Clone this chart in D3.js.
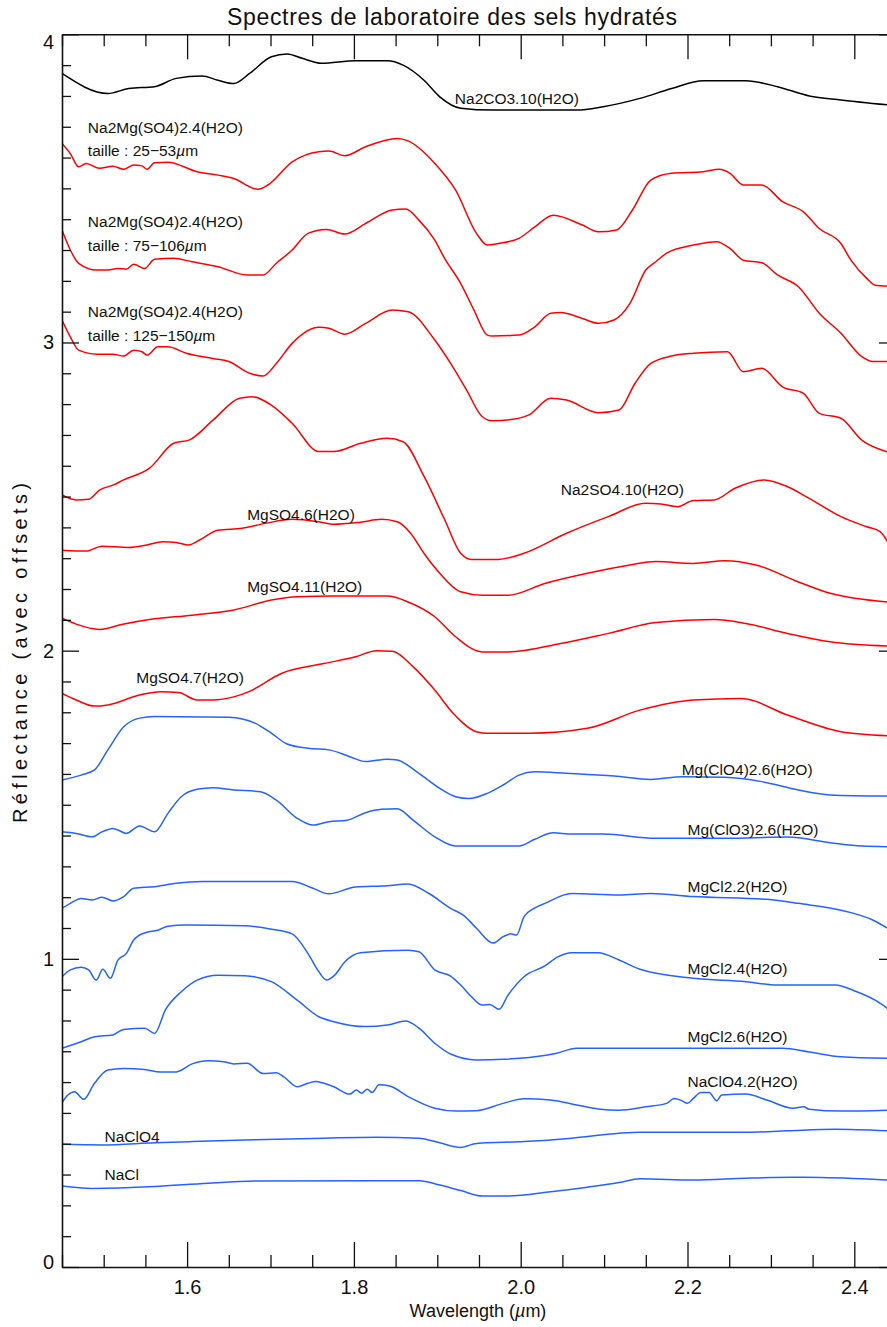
<!DOCTYPE html>
<html>
<head>
<meta charset="utf-8">
<script src="https://cdn.jsdelivr.net/npm/d3@7"></script>
<style>
  html, body { margin: 0; padding: 0; background: #fff; }
  svg { display: block; font-family: "Liberation Sans", Arial, sans-serif; }
</style>
</head>
<body>
<div id="chart"></div>
<script>
// ── Axis ticks ─────────────────────────────────────────────────────────
const xMajor       = [1.6, 1.8, 2.0, 2.2, 2.4];
const xMajorLabels = ["1.6", "1.8", "2.0", "2.2", "2.4"];
const yMajor       = [0, 1, 2, 3, 4];
const yMajorLabels = ["0", "1", "2", "3", "4"];

// ── Spectra: [wavelength µm, reflectance + offset] ─────────────────────
const na2co3_10 = [
  [1.450,3.873],[1.505,3.808],[1.530,3.824],[1.561,3.830],[1.587,3.857],[1.618,3.865],
  [1.637,3.851],[1.656,3.840],[1.675,3.873],[1.701,3.927],[1.720,3.936],[1.738,3.922],
  [1.761,3.906],[1.802,3.914],[1.840,3.914],[1.859,3.900],[1.884,3.851],[1.903,3.797],
  [1.928,3.760],[1.966,3.754],[2.067,3.754],[2.099,3.765],[2.143,3.792],[2.181,3.824],
  [2.219,3.849],[2.270,3.849],[2.308,3.830],[2.346,3.800],[2.384,3.787],[2.440,3.771]
];
const na2mg_25_53 = [
  [1.450,3.646],[1.460,3.613],[1.470,3.570],[1.479,3.581],[1.495,3.565],[1.511,3.572],
  [1.524,3.562],[1.536,3.576],[1.546,3.573],[1.552,3.562],[1.561,3.583],[1.577,3.585],
  [1.612,3.554],[1.637,3.543],[1.656,3.532],[1.685,3.497],[1.697,3.511],[1.726,3.586],
  [1.758,3.619],[1.770,3.621],[1.789,3.606],[1.814,3.635],[1.852,3.662],[1.865,3.654],
  [1.897,3.581],[1.922,3.494],[1.947,3.354],[1.960,3.316],[1.973,3.321],[1.998,3.338],
  [2.017,3.375],[2.039,3.413],[2.074,3.381],[2.093,3.359],[2.115,3.365],[2.134,3.430],
  [2.156,3.527],[2.181,3.549],[2.219,3.554],[2.238,3.562],[2.251,3.549],[2.267,3.511],
  [2.289,3.511],[2.314,3.457],[2.339,3.424],[2.358,3.370],[2.384,3.321],[2.396,3.267],
  [2.415,3.208],[2.425,3.186],[2.440,3.183]
];
const na2mg_75_106 = [
  [1.450,3.365],[1.460,3.300],[1.470,3.257],[1.492,3.235],[1.505,3.235],[1.517,3.240],
  [1.527,3.238],[1.536,3.254],[1.549,3.240],[1.561,3.270],[1.584,3.273],[1.606,3.262],
  [1.637,3.246],[1.672,3.219],[1.691,3.219],[1.707,3.257],[1.726,3.300],[1.745,3.354],
  [1.767,3.367],[1.789,3.352],[1.814,3.386],[1.846,3.430],[1.862,3.433],[1.878,3.397],
  [1.897,3.332],[1.909,3.272],[1.928,3.192],[1.944,3.105],[1.960,3.024],[1.966,3.021],
  [1.998,3.024],[2.017,3.051],[2.036,3.095],[2.048,3.097],[2.074,3.078],[2.093,3.062],
  [2.112,3.073],[2.131,3.127],[2.150,3.235],[2.162,3.262],[2.175,3.290],[2.207,3.316],
  [2.235,3.327],[2.251,3.305],[2.267,3.267],[2.289,3.259],[2.308,3.219],[2.333,3.181],
  [2.358,3.095],[2.384,3.030],[2.409,2.954],[2.422,2.938],[2.440,2.938]
];
const na2mg_125_150 = [
  [1.450,3.073],[1.460,3.018],[1.470,2.975],[1.492,2.962],[1.511,2.962],[1.524,2.956],
  [1.536,2.975],[1.546,2.970],[1.552,2.959],[1.565,2.986],[1.577,2.986],[1.599,2.965],
  [1.631,2.948],[1.650,2.938],[1.675,2.900],[1.691,2.891],[1.707,2.932],[1.726,2.997],
  [1.758,3.049],[1.770,3.046],[1.789,3.027],[1.814,3.062],[1.846,3.105],[1.865,3.100],
  [1.897,3.008],[1.916,2.932],[1.935,2.846],[1.954,2.759],[1.966,2.746],[1.991,2.751],
  [2.010,2.765],[2.036,2.819],[2.055,2.813],[2.093,2.772],[2.118,2.781],[2.137,2.867],
  [2.156,2.932],[2.181,2.956],[2.207,2.965],[2.248,2.970],[2.267,2.905],[2.289,2.916],
  [2.314,2.856],[2.339,2.835],[2.358,2.770],[2.384,2.754],[2.409,2.683],[2.440,2.645]
];
const na2so4_10 = [
  [1.450,2.505],[1.467,2.489],[1.482,2.491],[1.495,2.521],[1.511,2.537],[1.524,2.554],
  [1.555,2.592],[1.584,2.673],[1.603,2.684],[1.631,2.748],[1.663,2.819],[1.678,2.824],
  [1.701,2.797],[1.726,2.738],[1.758,2.646],[1.776,2.646],[1.808,2.673],[1.840,2.689],
  [1.859,2.678],[1.884,2.566],[1.909,2.424],[1.928,2.316],[1.941,2.296],[1.973,2.296],
  [2.004,2.316],[2.055,2.381],[2.105,2.435],[2.150,2.478],[2.168,2.476],[2.188,2.467],
  [2.207,2.487],[2.232,2.489],[2.257,2.527],[2.292,2.554],[2.320,2.532],[2.346,2.494],
  [2.384,2.435],[2.415,2.402],[2.431,2.386],[2.440,2.353]
];
const mgso4_6 = [
  [1.450,2.326],[1.479,2.323],[1.498,2.339],[1.530,2.335],[1.552,2.343],[1.571,2.353],
  [1.587,2.351],[1.602,2.343],[1.615,2.359],[1.637,2.391],[1.666,2.397],[1.694,2.413],
  [1.726,2.426],[1.758,2.418],[1.776,2.410],[1.808,2.417],[1.833,2.426],[1.852,2.418],
  [1.868,2.381],[1.884,2.316],[1.903,2.251],[1.928,2.191],[1.954,2.180],[1.985,2.180],
  [2.029,2.218],[2.080,2.251],[2.131,2.278],[2.162,2.289],[2.207,2.283],[2.245,2.292],
  [2.282,2.278],[2.333,2.223],[2.371,2.186],[2.403,2.169],[2.440,2.158]
];
const mgso4_11 = [
  [1.450,2.105],[1.467,2.086],[1.495,2.069],[1.523,2.086],[1.555,2.101],[1.606,2.115],
  [1.656,2.132],[1.701,2.164],[1.732,2.175],[1.776,2.177],[1.840,2.177],[1.865,2.158],
  [1.897,2.110],[1.922,2.045],[1.954,1.996],[1.985,1.996],[2.048,2.023],[2.105,2.056],
  [2.162,2.091],[2.232,2.101],[2.270,2.088],[2.320,2.056],[2.371,2.029],[2.440,2.015]
];
const mgso4_7 = [
  [1.450,1.861],[1.467,1.840],[1.489,1.820],[1.505,1.824],[1.543,1.856],[1.568,1.867],
  [1.590,1.864],[1.612,1.840],[1.631,1.840],[1.656,1.850],[1.675,1.868],[1.713,1.926],
  [1.764,1.958],[1.802,1.980],[1.827,2.000],[1.846,1.998],[1.871,1.948],[1.897,1.872],
  [1.919,1.797],[1.947,1.737],[1.960,1.732],[2.010,1.732],[2.080,1.748],[2.143,1.807],
  [2.207,1.840],[2.264,1.845],[2.320,1.791],[2.384,1.737],[2.440,1.724]
];
const mgclo4_6 = [
  [1.450,1.580],[1.473,1.596],[1.489,1.613],[1.505,1.678],[1.524,1.753],[1.543,1.781],
  [1.561,1.786],[1.650,1.784],[1.682,1.764],[1.701,1.732],[1.720,1.697],[1.745,1.683],
  [1.770,1.678],[1.795,1.656],[1.814,1.640],[1.840,1.648],[1.852,1.645],[1.878,1.602],
  [1.903,1.553],[1.922,1.526],[1.938,1.520],[1.960,1.537],[1.979,1.564],[1.998,1.596],
  [2.017,1.607],[2.055,1.602],[2.112,1.593],[2.156,1.582],[2.194,1.591],[2.245,1.589],
  [2.289,1.575],[2.333,1.548],[2.371,1.532],[2.440,1.528]
];
const mgclo3_6 = [
  [1.450,1.412],[1.467,1.407],[1.486,1.396],[1.498,1.412],[1.511,1.423],[1.517,1.418],
  [1.527,1.407],[1.543,1.431],[1.561,1.412],[1.577,1.472],[1.593,1.526],[1.612,1.550],
  [1.631,1.555],[1.656,1.548],[1.688,1.542],[1.707,1.515],[1.732,1.456],[1.751,1.434],
  [1.770,1.445],[1.792,1.450],[1.814,1.474],[1.833,1.485],[1.852,1.487],[1.871,1.450],
  [1.897,1.396],[1.922,1.366],[1.998,1.366],[2.017,1.388],[2.039,1.409],[2.061,1.405],
  [2.099,1.405],[2.162,1.391],[2.245,1.391],[2.320,1.395],[2.371,1.377],[2.409,1.366],
  [2.440,1.364]
];
const mgcl2_2 = [
  [1.450,1.164],[1.460,1.180],[1.473,1.196],[1.486,1.191],[1.498,1.200],[1.511,1.188],
  [1.524,1.202],[1.536,1.229],[1.561,1.234],[1.587,1.245],[1.618,1.251],[1.726,1.251],
  [1.751,1.229],[1.770,1.211],[1.802,1.233],[1.840,1.237],[1.865,1.243],[1.890,1.212],
  [1.916,1.164],[1.932,1.140],[1.947,1.099],[1.967,1.051],[1.979,1.072],[1.988,1.081],
  [1.995,1.077],[2.004,1.137],[2.017,1.165],[2.029,1.180],[2.061,1.212],[2.118,1.207],
  [2.156,1.212],[2.207,1.202],[2.295,1.193],[2.333,1.180],[2.396,1.150],[2.422,1.126],
  [2.440,1.099]
];
const mgcl2_4 = [
  [1.450,0.942],[1.460,0.964],[1.473,0.973],[1.482,0.964],[1.491,0.931],[1.499,0.966],
  [1.508,0.937],[1.517,0.996],[1.527,1.017],[1.536,1.061],[1.549,1.084],[1.565,1.093],
  [1.577,1.106],[1.599,1.110],[1.669,1.107],[1.701,1.096],[1.726,1.081],[1.745,1.017],
  [1.758,0.958],[1.767,0.931],[1.777,0.947],[1.789,0.990],[1.808,1.020],[1.865,1.028],
  [1.878,1.023],[1.897,0.964],[1.916,0.944],[1.928,0.915],[1.941,0.877],[1.954,0.850],
  [1.963,0.852],[1.974,0.836],[1.985,0.883],[2.004,0.942],[2.029,0.977],[2.045,1.007],
  [2.061,1.020],[2.093,1.020],[2.118,0.996],[2.143,0.966],[2.207,0.937],[2.270,0.926],
  [2.308,0.915],[2.377,0.915],[2.403,0.893],[2.425,0.866],[2.440,0.839]
];
const mgcl2_6 = [
  [1.450,0.710],[1.473,0.731],[1.489,0.747],[1.511,0.753],[1.524,0.771],[1.549,0.775],
  [1.561,0.758],[1.574,0.834],[1.593,0.893],[1.612,0.931],[1.637,0.947],[1.669,0.945],
  [1.701,0.926],[1.732,0.866],[1.758,0.812],[1.776,0.796],[1.814,0.780],[1.840,0.785],
  [1.862,0.798],[1.878,0.775],[1.897,0.726],[1.916,0.691],[1.947,0.672],[1.979,0.674],
  [2.017,0.682],[2.042,0.693],[2.067,0.710],[2.314,0.710],[2.346,0.698],[2.384,0.682],
  [2.440,0.677]
];
const naclo4_2 = [
  [1.450,0.533],[1.457,0.558],[1.465,0.569],[1.476,0.544],[1.489,0.596],[1.505,0.639],
  [1.524,0.644],[1.549,0.641],[1.568,0.633],[1.587,0.633],[1.606,0.659],[1.625,0.669],
  [1.644,0.666],[1.656,0.659],[1.672,0.661],[1.691,0.628],[1.707,0.630],[1.716,0.617],
  [1.732,0.585],[1.745,0.596],[1.754,0.602],[1.764,0.596],[1.776,0.585],[1.795,0.561],
  [1.803,0.574],[1.809,0.564],[1.816,0.577],[1.822,0.566],[1.830,0.591],[1.843,0.587],
  [1.865,0.553],[1.897,0.515],[1.922,0.506],[1.947,0.507],[1.979,0.531],[2.004,0.546],
  [2.036,0.542],[2.067,0.526],[2.093,0.513],[2.118,0.509],[2.150,0.520],[2.175,0.531],
  [2.184,0.547],[2.193,0.540],[2.200,0.531],[2.207,0.547],[2.216,0.566],[2.226,0.566],
  [2.235,0.539],[2.241,0.558],[2.270,0.561],[2.295,0.542],[2.327,0.515],[2.339,0.520],
  [2.346,0.512],[2.384,0.506],[2.440,0.509]
];
const naclo4 = [
  [1.450,0.398],[1.498,0.396],[1.561,0.403],[1.606,0.407],[1.669,0.412],[1.764,0.418],
  [1.827,0.421],[1.878,0.418],[1.903,0.403],[1.928,0.388],[1.947,0.401],[2.004,0.407],
  [2.061,0.418],[2.118,0.434],[2.143,0.437],[2.270,0.437],[2.320,0.442],[2.377,0.447],
  [2.440,0.442]
];
const nacl = [
  [1.450,0.263],[1.486,0.255],[1.561,0.261],[1.625,0.272],[1.688,0.279],[1.827,0.280],
  [1.878,0.280],[1.903,0.266],[1.928,0.248],[1.954,0.230],[1.985,0.230],[2.036,0.244],
  [2.080,0.259],[2.118,0.274],[2.143,0.286],[2.207,0.282],[2.270,0.288],[2.327,0.291],
  [2.339,0.291],[2.409,0.286],[2.440,0.282]
];

const BLACK = "#000000", RED = "#ff0000", BLUE = "#2463ff";

const series = [
  { data: na2co3_10,     color: BLACK },
  { data: na2mg_25_53,   color: RED },
  { data: na2mg_75_106,  color: RED },
  { data: na2mg_125_150, color: RED },
  { data: na2so4_10,     color: RED },
  { data: mgso4_6,       color: RED },
  { data: mgso4_11,      color: RED },
  { data: mgso4_7,       color: RED },
  { data: mgclo4_6,      color: BLUE },
  { data: mgclo3_6,      color: BLUE },
  { data: mgcl2_2,       color: BLUE },
  { data: mgcl2_4,       color: BLUE },
  { data: mgcl2_6,       color: BLUE },
  { data: naclo4_2,      color: BLUE },
  { data: naclo4,        color: BLUE },
  { data: nacl,          color: BLUE }
];

// Labels anchored in data coordinates [wavelength, reflectance]
const labels = [
  { text: "Na2CO3.10(H2O)",      at: [1.921, 3.774] },
  { text: "Na2Mg(SO4)2.4(H2O)",  at: [1.481, 3.679] },
  { text: "taille : 25\u221253", mu: true, at: [1.481, 3.606] },
  { text: "Na2Mg(SO4)2.4(H2O)",  at: [1.481, 3.374] },
  { text: "taille : 75\u2212106", mu: true, at: [1.481, 3.297] },
  { text: "Na2Mg(SO4)2.4(H2O)",  at: [1.481, 3.082] },
  { text: "taille : 125\u2212150", mu: true, at: [1.481, 3.006] },
  { text: "Na2SO4.10(H2O)",      at: [2.048, 2.505] },
  { text: "MgSO4.6(H2O)",        at: [1.672, 2.424] },
  { text: "MgSO4.11(H2O)",       at: [1.672, 2.191] },
  { text: "MgSO4.7(H2O)",        at: [1.539, 1.894] },
  { text: "Mg(ClO4)2.6(H2O)",    at: [2.193, 1.596] },
  { text: "Mg(ClO3)2.6(H2O)",    at: [2.200, 1.402] },
  { text: "MgCl2.2(H2O)",        at: [2.200, 1.218] },
  { text: "MgCl2.4(H2O)",        at: [2.200, 0.952] },
  { text: "MgCl2.6(H2O)",        at: [2.200, 0.731] },
  { text: "NaClO4.2(H2O)",       at: [2.200, 0.585] },
  { text: "NaClO4",              at: [1.501, 0.405] },
  { text: "NaCl",                at: [1.501, 0.282] }
];

// ── Layout ──────────────────────────────────────────────────────────────
const W = 887, H = 1327;
const plot = { left: 62, right: 896, top: 34.3, bottom: 1267 };

const x = d3.scaleLinear().domain([1.45, 2.45]).range([plot.left, plot.right]);
const y = d3.scaleLinear().domain([0, 4]).range([plot.bottom, plot.top]);

const svg = d3.select("#chart").append("svg")
  .attr("width", W).attr("height", H)
  .style("background", "#fff");

svg.append("defs").append("clipPath").attr("id", "plot-clip")
  .append("rect")
    .attr("x", plot.left).attr("y", plot.top)
    .attr("width", plot.right - plot.left).attr("height", plot.bottom - plot.top);

// ── Spectra ─────────────────────────────────────────────────────────────
const line = d3.line()
  .x(d => x(d[0])).y(d => y(d[1]))
  .curve(d3.curveMonotoneX);

svg.append("g").attr("clip-path", "url(#plot-clip)")
  .selectAll("path").data(series).join("path")
    .attr("d", d => line(d.data))
    .attr("fill", "none")
    .attr("stroke", d => d.color)
    .attr("stroke-width", 1.5)
    .attr("stroke-linejoin", "round");

// ── Axes ────────────────────────────────────────────────────────────────
const xMinor = d3.range(1.45, 2.451, 0.05).map(v => +v.toFixed(2))
  .filter(v => !xMajor.some(m => Math.abs(m - v) < 1e-6));
const yMinor = d3.range(0, 4.001, 0.1).map(v => +v.toFixed(1))
  .filter(v => !yMajor.includes(v));

const AX = "#111";

function styleAxis(g) {
  g.selectAll("path.domain").attr("stroke", AX).attr("stroke-width", 1.6);
  g.selectAll(".tick line").attr("stroke", AX).attr("stroke-width", 1.3);
  g.selectAll(".tick text")
    .attr("fill", "#111")
    .style("font-family", "'Liberation Sans', Arial, sans-serif")
    .style("font-size", "20px");
}

// bottom
svg.append("g").attr("transform", `translate(0,${plot.bottom})`)
  .call(d3.axisBottom(x).tickValues(xMajor)
    .tickFormat((d, i) => xMajorLabels[i])
    .tickSizeInner(-25).tickSizeOuter(0).tickPadding(13))
  .call(styleAxis);
svg.append("g").attr("transform", `translate(0,${plot.bottom})`)
  .call(d3.axisBottom(x).tickValues(xMinor).tickFormat("")
    .tickSizeInner(-12).tickSizeOuter(0))
  .call(g => g.select(".domain").remove())
  .call(styleAxis);

// top
svg.append("g").attr("transform", `translate(0,${plot.top})`)
  .call(d3.axisTop(x).tickValues(xMajor).tickFormat("")
    .tickSizeInner(-25).tickSizeOuter(0))
  .call(styleAxis);
svg.append("g").attr("transform", `translate(0,${plot.top})`)
  .call(d3.axisTop(x).tickValues(xMinor).tickFormat("")
    .tickSizeInner(-12).tickSizeOuter(0))
  .call(g => g.select(".domain").remove())
  .call(styleAxis);

// left
svg.append("g").attr("transform", `translate(${plot.left},0)`)
  .call(d3.axisLeft(y).tickValues(yMajor)
    .tickFormat((d, i) => yMajorLabels[i])
    .tickSizeInner(-17).tickSizeOuter(0).tickPadding(8))
  .call(styleAxis)
  .call(g => g.selectAll(".tick text")
    .attr("y", d => d === 4 ? 8 : d === 0 ? -5 : 0));
svg.append("g").attr("transform", `translate(${plot.left},0)`)
  .call(d3.axisLeft(y).tickValues(yMinor).tickFormat("")
    .tickSizeInner(-9).tickSizeOuter(0))
  .call(g => g.select(".domain").remove())
  .call(styleAxis);

// right (mostly outside the picture)
svg.append("g").attr("transform", `translate(${plot.right},0)`)
  .call(d3.axisRight(y).tickValues(yMajor).tickFormat("")
    .tickSizeInner(-17).tickSizeOuter(0))
  .call(styleAxis);
svg.append("g").attr("transform", `translate(${plot.right},0)`)
  .call(d3.axisRight(y).tickValues(yMinor).tickFormat("")
    .tickSizeInner(-9).tickSizeOuter(0))
  .call(g => g.select(".domain").remove())
  .call(styleAxis);

// ── Series labels ───────────────────────────────────────────────────────
const lab = svg.append("g")
  .style("font-family", "'Liberation Sans', Arial, sans-serif")
  .style("font-size", "15.5px")
  .attr("fill", "#111");

labels.forEach(l => {
  const t = lab.append("text")
    .attr("x", x(l.at[0]))
    .attr("y", y(l.at[1]))
    .text(l.text);
  if (l.mu) {
    t.append("tspan").style("font-style", "italic").text("\u00b5");
    t.append("tspan").text("m");
  }
});

// ── Titles ──────────────────────────────────────────────────────────────
svg.append("text")
  .attr("x", 452).attr("y", 25)
  .attr("text-anchor", "middle")
  .attr("textLength", 450).attr("lengthAdjust", "spacing")
  .style("font-size", "23px")
  .attr("fill", "#111")
  .text("Spectres de laboratoire des sels hydratés");

const xl = svg.append("text")
  .attr("x", 478).attr("y", 1317)
  .attr("text-anchor", "middle")
  .style("font-size", "18px")
  .attr("fill", "#111")
  .text("Wavelength (");
xl.append("tspan").style("font-style", "italic").text("\u00b5");
xl.append("tspan").text("m)");

svg.append("text")
  .attr("transform", "translate(27,653) rotate(-90)")
  .attr("text-anchor", "middle")
  .attr("textLength", 340).attr("lengthAdjust", "spacing")
  .style("font-size", "20px")
  .attr("fill", "#111")
  .text("Réflectance (avec offsets)");
</script>
</body>
</html>
